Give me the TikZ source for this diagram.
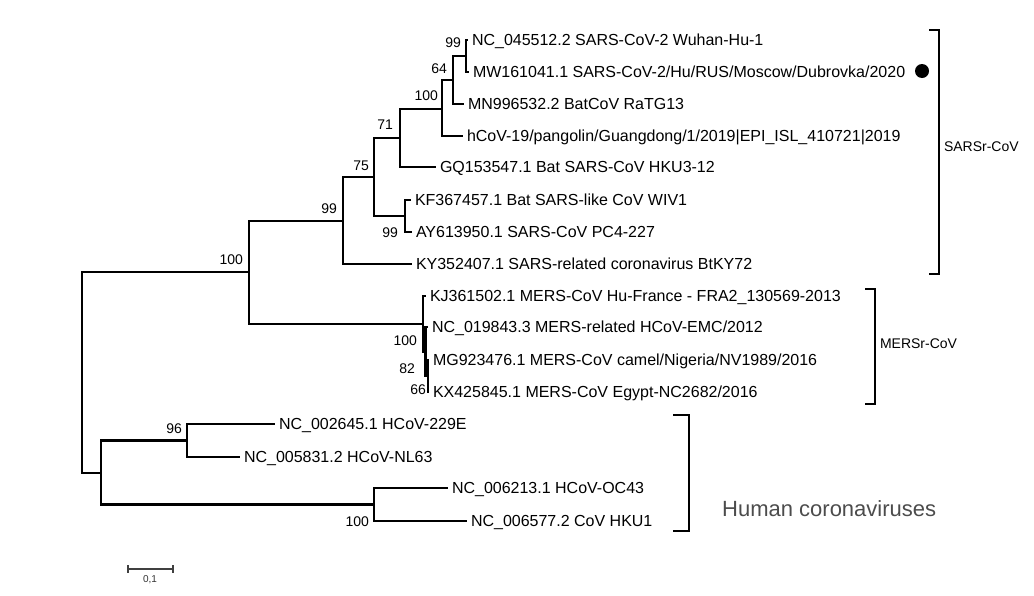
\documentclass[tikz,border=0pt]{standalone}
\usepackage{fontspec}
\setmainfont{Liberation Sans}
\begin{document}
\begin{tikzpicture}[x=1pt,y=-1pt,
  br/.style={line width=2.9pt, line join=miter},
  leaf/.style={anchor=west, inner xsep=4pt, inner ysep=0pt, outer sep=0pt, text height=11.5pt, text depth=0pt, font=\fontsize{16}{19}\selectfont},
  boot/.style={anchor=east, inner sep=0pt, outer sep=0pt, text height=10pt, text depth=0pt, font=\fontsize{14}{16}\selectfont},
  bracket/.style={line width=2.8pt, line join=miter},
  clade/.style={anchor=west, inner sep=0pt, outer sep=0pt, text height=10pt, text depth=0pt, font=\fontsize{14}{17}\selectfont},
  scalebar/.style={line width=1.3pt, draw=black!75}]
\useasboundingbox (0,0) rectangle (1034,595);

% internal nodes
\coordinate (R) at (82,372.5);
\coordinate (A) at (249,272);
\coordinate (B) at (343,221);
\coordinate (C) at (374,177);
\coordinate (D) at (400,138);
\coordinate (F) at (442,109);
\coordinate (G) at (453,80);
\coordinate (H) at (466,56);
\coordinate (E) at (405,216);
\coordinate (M) at (423,324);
\coordinate (M2) at (425.5,352);
\coordinate (M3) at (428,376);
\coordinate (Hm) at (101,473);
\coordinate (H96) at (187,440.5);
\coordinate (H100) at (374,504.5);

% leaves
\node[leaf] (l1) at (468,40) {NC\_045512.2 SARS-CoV-2 Wuhan-Hu-1};
\node[leaf] (l2) at (469,72) {MW161041.1 SARS-CoV-2/Hu/RUS/Moscow/Dubrovka/2020};
\node[leaf] (l3) at (464,104) {MN996532.2 BatCoV RaTG13};
\node[leaf] (l4) at (463,136) {hCoV-19/pangolin/Guangdong/1/2019\textbar EPI\_ISL\_410721\textbar 2019};
\node[leaf] (l5) at (436,167) {GQ153547.1 Bat SARS-CoV HKU3-12};
\node[leaf] (l6) at (411,200) {KF367457.1 Bat SARS-like CoV WIV1};
\node[leaf] (l7) at (412,232) {AY613950.1 SARS-CoV PC4-227};
\node[leaf] (l8) at (412,264) {KY352407.1 SARS-related coronavirus BtKY72};
\node[leaf] (l9) at (426,296) {KJ361502.1 MERS-CoV Hu-France - FRA2\_130569-2013};
\node[leaf] (l10) at (428,327) {NC\_019843.3 MERS-related HCoV-EMC/2012};
\node[leaf] (l11) at (429,360) {MG923476.1 MERS-CoV camel/Nigeria/NV1989/2016};
\node[leaf] (l12) at (429,392) {KX425845.1 MERS-CoV Egypt-NC2682/2016};
\node[leaf] (l13) at (275,424) {NC\_002645.1 HCoV-229E};
\node[leaf] (l14) at (240,457) {NC\_005831.2 HCoV-NL63};
\node[leaf] (l15) at (448,488) {NC\_006213.1 HCoV-OC43};
\node[leaf] (l16) at (467,521) {NC\_006577.2 CoV HKU1};

% branches
\draw[br] (R) |- (A);  \draw[br] (R) |- (Hm);
\draw[br] (A) |- (B);  \draw[br] (A) |- (M);
\draw[br] (B) |- (C);  \draw[br] (B) |- (l8.west);
\draw[br] (C) |- (D);  \draw[br] (C) |- (E);
\draw[br] (D) |- (F);  \draw[br] (D) |- (l5.west);
\draw[br] (F) |- (G);  \draw[br] (F) |- (l4.west);
\draw[br] (G) |- (H);  \draw[br] (G) |- (l3.west);
\draw[br] (H) |- (l1.west); \draw[br] (H) |- (l2.west);
\draw[br] (E) |- (l6.west); \draw[br] (E) |- (l7.west);
\draw[br] (M) |- (l9.west); \draw[br] (M) |- (M2);
\draw[br] (M2) |- (l10.west); \draw[br] (M2) |- (M3);
\draw[br] (M3) |- (l11.west); \draw[br] (M3) |- (l12.west);
\draw[br] (Hm) |- (H96); \draw[br] (Hm) |- (H100);
\draw[br] (H96) |- (l13.west); \draw[br] (H96) |- (l14.west);
\draw[br] (H100) |- (l15.west); \draw[br] (H100) |- (l16.west);

% bootstrap values
\node[boot] (bH) at (461,42) {99};
\node[boot] (bG) at (447,68) {64};
\node[boot] (bF) at (438,95) {100};
\node[boot] (bD) at (393,124) {71};
\node[boot] (bC) at (369,165) {75};
\node[boot] (bB) at (337,208) {99};
\node[boot] (bA) at (243,259) {100};
\node[boot] (bE) at (398,232) {99};
\node[boot] (bM) at (417,340) {100};
\node[boot] (bM2) at (415,368) {82};
\node[boot] (bM3) at (426,389) {66};
\node[boot] (bH96) at (182,428) {96};
\node[boot] (bH100) at (369,521) {100};

% marker
\node[circle, fill=black, minimum size=14pt, inner sep=0pt] (dot) at (922,71) {};

% brackets
\coordinate (sa1) at (929,30); \coordinate (sa2) at (939,30);
\coordinate (sa3) at (939,274); \coordinate (sa4) at (929,274);
\draw[bracket] (sa1) -- (sa2) -- (sa3) -- (sa4);
\node[clade] (sars) at (944,146) {SARSr-CoV};

\coordinate (me1) at (865,289); \coordinate (me2) at (875,289);
\coordinate (me3) at (875,404); \coordinate (me4) at (865,404);
\draw[bracket] (me1) -- (me2) -- (me3) -- (me4);
\node[clade] (mers) at (880,343) {MERSr-CoV};

\coordinate (hu1) at (673,415); \coordinate (hu2) at (689,415);
\coordinate (hu3) at (689,531); \coordinate (hu4) at (673,531);
\draw[bracket] (hu1) -- (hu2) -- (hu3) -- (hu4);
\node[anchor=west, inner sep=0pt, text height=15.75pt, text depth=0pt, text=black!70, font=\fontsize{22}{26}\selectfont] (human) at (722,509) {Human coronaviruses};

% scale bar
\coordinate (sb1) at (128,569); \coordinate (sb2) at (173,569);
\draw[scalebar] (sb1) -- (sb2);
\draw[scalebar] ([yshift=4pt]sb1) -- ([yshift=-4pt]sb1);
\draw[scalebar] ([yshift=4pt]sb2) -- ([yshift=-4pt]sb2);
\node[inner sep=0pt, text=black!80, font=\fontsize{10}{12}\selectfont] (sbl) at (150,580) {0,1};
\end{tikzpicture}
\end{document}
